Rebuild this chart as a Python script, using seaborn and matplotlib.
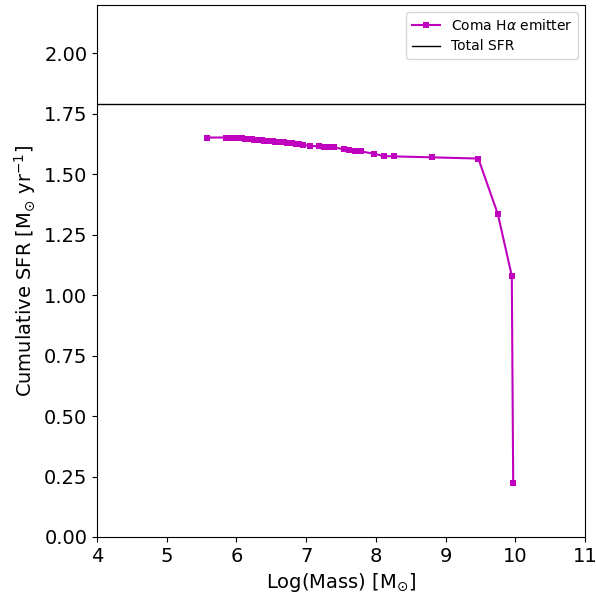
import matplotlib
matplotlib.use("Agg")
import matplotlib.pyplot as plt
import seaborn as sns
import pandas as pd

# Log(Mass) of the Coma H-alpha emitters and the cumulative SFR
log_mass = [5.58, 5.85, 5.88, 5.92, 5.95, 5.98, 6.02, 6.05, 6.08, 6.12,
            6.15, 6.18, 6.22, 6.25, 6.28, 6.32, 6.36, 6.40, 6.44, 6.48,
            6.52, 6.56, 6.60, 6.64, 6.68, 6.72, 6.76, 6.80, 6.85, 6.90,
            6.95, 7.05, 7.18, 7.25, 7.32, 7.40, 7.55, 7.62, 7.70, 7.78,
            7.97, 8.12, 8.26, 8.80, 9.47, 9.75, 9.95, 9.97]
cum_sfr = [1.652, 1.652, 1.652, 1.651, 1.650, 1.650, 1.649, 1.648, 1.648, 1.647,
           1.646, 1.645, 1.644, 1.643, 1.642, 1.641, 1.640, 1.639, 1.638, 1.637,
           1.636, 1.635, 1.634, 1.633, 1.632, 1.630, 1.629, 1.628, 1.626, 1.625,
           1.623, 1.617, 1.616, 1.614, 1.612, 1.611, 1.603, 1.600, 1.598, 1.595,
           1.585, 1.575, 1.574, 1.570, 1.565, 1.335, 1.080, 0.225]
total_sfr = 1.79

df = pd.DataFrame({"mass": log_mass, "sfr": cum_sfr})

fig = plt.figure(figsize=(5.96, 5.96), dpi=100)
ax = fig.add_axes([97 / 596, 59 / 596, 488 / 596, 532 / 596])

sns.lineplot(data=df, x="mass", y="sfr", sort=False, ax=ax, color="m",
             marker="s", markersize=5, markeredgewidth=0, linewidth=1.5,
             label=r"Coma H$\alpha$ emitter")
ax.axhline(total_sfr, color="k", linewidth=1, label="Total SFR")

ax.set_xlim(4, 11)
ax.set_ylim(0, 2.2)
ax.set_yticks([0, 0.25, 0.5, 0.75, 1.0, 1.25, 1.5, 1.75, 2.0])
ax.set_yticklabels([f"{v:.2f}" for v in [0, 0.25, 0.5, 0.75, 1.0, 1.25, 1.5, 1.75, 2.0]])
ax.tick_params(labelsize=14)
ax.set_xlabel(r"Log(Mass) [M$_{\odot}$]", fontsize=14)
ax.set_ylabel(r"Cumulative SFR [M$_{\odot}$ yr$^{-1}$]", fontsize=14)
ax.legend(loc="upper right", fontsize=10)

fig.savefig("out.png", dpi=100)
